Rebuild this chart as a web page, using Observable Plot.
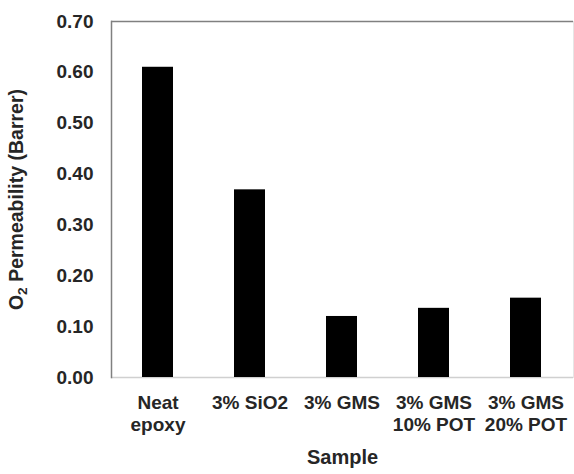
<!DOCTYPE html>
<html><head><meta charset="utf-8">
<script src="https://cdn.jsdelivr.net/npm/d3@7"></script>
<script src="https://cdn.jsdelivr.net/npm/@observablehq/plot@0.6"></script>
<style>body{margin:0;background:#fff}</style>
</head><body><div id="chart"></div>
<script>
const samples = ["Neat\nepoxy", "3% SiO2", "3% GMS", "3% GMS\n10% POT", "3% GMS\n20% POT"];
const permeability = [0.610, 0.369, 0.120, 0.136, 0.156];
const yTicks = [0, 0.1, 0.2, 0.3, 0.4, 0.5, 0.6, 0.7];
const yTitle = "O2 Permeability (Barrer)";
const xTitle = "Sample";

const data = samples.map((s, i) => ({sample: s, value: permeability[i]}));

const chart = Plot.plot({
  width: 574, height: 474,
  marginLeft: 111, marginRight: 1, marginTop: 21, marginBottom: 97,
  style: {fontFamily: "'Liberation Sans', Arial, sans-serif", fontWeight: "bold", fontSize: "19px", color: "#262626", background: "#fff"},
  x: {domain: samples, paddingInner: 0.66, paddingOuter: 0.33},
  y: {domain: [0, 0.7]},
  marks: [
    Plot.ruleY([0], {stroke: "#d0d0d0", strokeWidth: 1.5}),
    Plot.barY(data, {x: "sample", y: "value", fill: "#000"}),
    Plot.ruleY([0.7], {stroke: "#808080", strokeWidth: 1.5}),
    Plot.frame({anchor: "left", stroke: "#808080", strokeWidth: 1.5}),
    Plot.frame({anchor: "right", stroke: "#e6e6e6"}),
    Plot.axisY({ticks: yTicks, tickSize: 0, tickPadding: 18, tickFormat: d3.format(".2f"), label: null, fontSize: 19}),
    Plot.axisX({tickSize: 0, tickPadding: 16, label: null, lineHeight: 1.14, fontSize: 19}),
    Plot.text([yTitle], {frameAnchor: "left", dx: -94.5, rotate: -90, fontSize: 19.5, textAnchor: "middle"}),
    Plot.text([xTitle], {frameAnchor: "bottom", dy: 86, fontSize: 20})
  ]
});
// render the "2" of O2 as a subscript
chart.querySelectorAll("text").forEach(t => {
  if (t.textContent === yTitle) {
    t.textContent = "";
    t.setAttribute("text-anchor", "middle");
    const ns = "http://www.w3.org/2000/svg";
    const a = document.createElementNS(ns, "tspan"); a.textContent = "O";
    const b = document.createElementNS(ns, "tspan"); b.textContent = "2";
    b.setAttribute("font-size", "70%"); b.setAttribute("dy", "0.3em");
    const c = document.createElementNS(ns, "tspan"); c.textContent = " Permeability (Barrer)";
    c.setAttribute("dy", "-0.21em");
    t.append(a, b, c);
  }
});
document.getElementById("chart").append(chart);
</script>
</body></html>
